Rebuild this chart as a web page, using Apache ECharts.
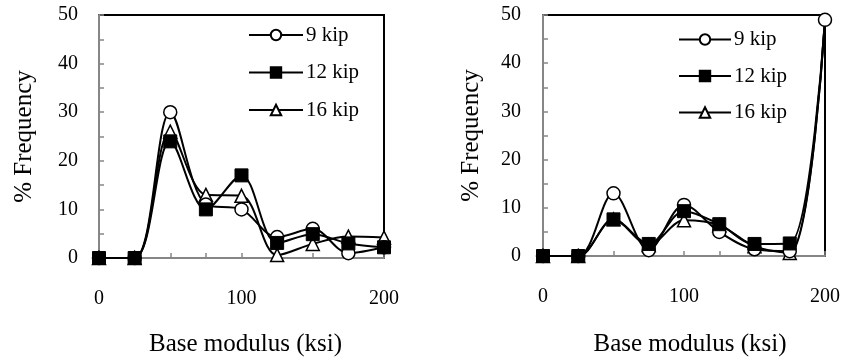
<!DOCTYPE html>
<html>
<head>
<meta charset="utf-8">
<script src="https://cdn.jsdelivr.net/npm/echarts@6/dist/echarts.min.js"></script>
<style>html,body{margin:0;padding:0;background:#fff;}#c{width:844px;height:362px;}</style>
</head>
<body>
<div id="c"></div>
<script>
const categories = [0, 25, 50, 75, 100, 125, 150, 175, 200];
const seriesNames = ['9 kip', '12 kip', '16 kip'];
const left9 = [0, 0, 30, 11, 10, 4.3, 6, 1, 2.2];
const left12 = [0, 0, 24, 10, 17, 3.1, 4.9, 3, 2.2];
const left16 = [0, 0, 26, 13, 12.8, 0.6, 2.9, 4.4, 4.2];
const right9 = [0, 0, 13, 1.2, 10.6, 5, 1.4, 1, 49];
const right12 = [0, 0, 7.6, 2.5, 9.3, 6.6, 2.5, 2.6, 49];
const right16 = [0, 0, 7.6, 2.3, 7.4, 6.4, 2, 0.6, 49];
const xTicks = [0, 100, 200];
const yTicks = [0, 10, 20, 30, 40, 50];

const FONT = '"Liberation Serif", "Times New Roman", serif';
const GRAY = '#868686';

function pairs(vals, hideLast) {
  return categories.map((x, i) => {
    if (hideLast && i === categories.length - 1) return { value: [x, vals[i]], symbol: 'none' };
    return [x, vals[i]];
  });
}

const markerStyles = [
  { symbol: 'circle', itemStyle: { color: '#fff', borderColor: '#000', borderWidth: 1.5 } },
  { symbol: 'rect', itemStyle: { color: '#000', borderColor: '#000', borderWidth: 1 } },
  { symbol: 'triangle', itemStyle: { color: '#fff', borderColor: '#000', borderWidth: 1.5 } }
];

function mkSeries(name, vals, idx, k, hideLast) {
  return Object.assign({
    name: name, type: 'line', xAxisIndex: idx, yAxisIndex: idx,
    data: pairs(vals, hideLast), smooth: 0.33, symbolSize: 13,
    lineStyle: { color: '#000', width: 2 },
    showSymbol: true, animation: false
  }, JSON.parse(JSON.stringify(markerStyles[k])));
}

function mkX(idx) {
  return {
    type: 'value', gridIndex: idx, min: 0, max: 200, interval: 100,
    name: 'Base modulus (ksi)', nameLocation: 'middle', nameGap: idx === 0 ? 74 : 76,
    nameTextStyle: { fontFamily: FONT, fontSize: 25, color: '#000', padding: idx === 0 ? [0, 0, 0, 8] : [0, 0, 0, 12] },
    axisLine: { lineStyle: { color: GRAY, width: 2 } },
    axisTick: { show: true, inside: true, length: 5, lineStyle: { color: GRAY, width: 1.5 } },
    minorTick: { show: true, splitNumber: 4, length: 5, lineStyle: { color: GRAY, width: 1.5 } },
    axisLabel: { fontFamily: FONT, fontSize: 20, color: '#000', margin: 31,
      formatter: v => xTicks.includes(v) ? String(v) : '' },
    splitLine: { show: false }
  };
}
function mkY(idx) {
  return {
    type: 'value', gridIndex: idx, min: 0, max: 50, interval: 10,
    name: '% Frequency', nameLocation: 'middle', nameGap: idx === 0 ? 62 : 59,
    nameTextStyle: { fontFamily: FONT, fontSize: 25, color: '#000' },
    axisLine: { show: true, lineStyle: { color: GRAY, width: 2 } },
    axisTick: { show: true, inside: true, length: 5, lineStyle: { color: GRAY, width: 1.5 } },
    minorTick: { show: true, splitNumber: 2, length: 5, lineStyle: { color: GRAY, width: 1.5 } },
    axisLabel: { fontFamily: FONT, fontSize: 20, color: '#000', margin: idx === 0 ? 21 : 22,
      formatter: v => yTicks.includes(v) ? String(v) : '' },
    splitLine: { show: false }
  };
}
function mkLegend(left, top, width, gap) {
  return {
    data: seriesNames, orient: 'vertical', left: left, top: top, padding: 0,
    itemWidth: width, itemHeight: 13, itemGap: gap,
    textStyle: { fontFamily: FONT, fontSize: 21, color: '#000', padding: [0, 0, 0, -2] },
    selectedMode: false
  };
}

const chart = echarts.init(document.getElementById('c'), null, { renderer: 'canvas' });
chart.setOption({
  backgroundColor: '#fff',
  animation: false,
  grid: [
    { left: 99, top: 15, width: 285, height: 244, show: true, borderColor: '#000', borderWidth: 2, backgroundColor: 'transparent' },
    { left: 543, top: 15, width: 282, height: 244, show: true, borderColor: '#000', borderWidth: 2, backgroundColor: 'transparent' }
  ],
  xAxis: [mkX(0), mkX(1)],
  yAxis: [mkY(0), mkY(1)],
  legend: [mkLegend(248, 24.5, 54, 16.5), mkLegend(678, 29, 52, 15.5)],
  series: [
    mkSeries(seriesNames[2], left16, 0, 2),
    mkSeries(seriesNames[0], left9, 0, 0),
    mkSeries(seriesNames[1], left12, 0, 1),
    mkSeries(seriesNames[2], right16, 1, 2, true),
    mkSeries(seriesNames[0], right9, 1, 0),
    mkSeries(seriesNames[1], right12, 1, 1, true)
  ]
});
</script>
</body>
</html>
